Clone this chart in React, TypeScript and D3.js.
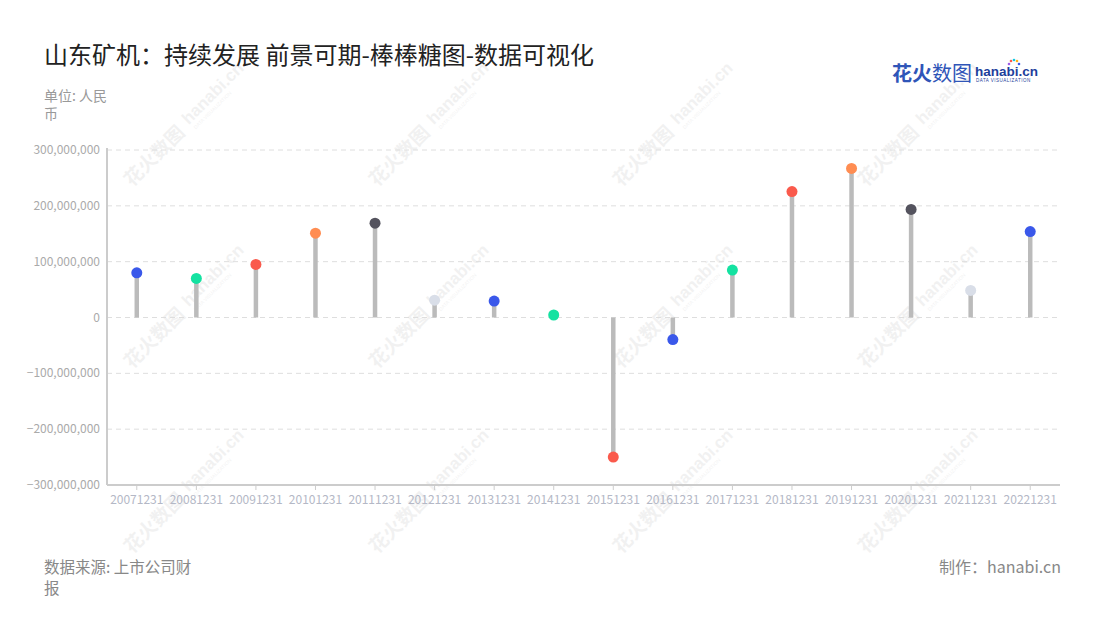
import React from "react";
import * as d3 from "d3";

const categories = ["20071231","20081231","20091231","20101231","20111231","20121231","20131231","20141231","20151231","20161231","20171231","20181231","20191231","20201231","20211231","20221231"];
const values = [80e6, 70e6, 95e6, 151e6, 169e6, 31e6, 29.5e6, 4.5e6, -250e6, -39.5e6, 85e6, 225.5e6, 267e6, 193.5e6, 48.5e6, 154e6];
const pointColors = ["#3a58ea","#14e2a1","#fa5a4c","#ff8d52","#54535e","#d9dee8","#3a58ea","#14e2a1","#fa5a4c","#3a58ea","#14e2a1","#fa5a4c","#ff8d52","#54535e","#d9dee8","#3a58ea"];
const yTicks = [-300e6, -200e6, -100e6, 0, 100e6, 200e6, 300e6];

const W = 1100, H = 620;
const left = 107, right = 1060, top = 150, bottom = 485;
const FONT = "'Noto Sans CJK SC', 'Noto Sans', sans-serif";

export default function App() {
  const x = d3.scaleBand<string>().domain(categories).range([left, right]);
  const y = d3.scaleLinear().domain([-300e6, 300e6]).range([bottom, top]);
  const fmt = d3.format(",");
  const wmCols = [183, 428, 672, 917];
  const wmRows = [128, 310, 495];
  return (
    <svg width={W} height={H} style={{ position: "absolute", left: 0, top: 0, background: "#fff" }} fontFamily={FONT}>
      {/* watermarks */}
      {wmRows.map((wy) => wmCols.map((wx) => (
        <g key={`${wx}-${wy}`} transform={`translate(${wx},${wy}) rotate(-45)`} opacity={0.05}>
          <text x={-78} y={6} fontSize={19} fontWeight={700} fill="#000">花火数图</text>
          <text x={6} y={2} fontSize={17} fontWeight={700} fill="#000" fontFamily="Arial, sans-serif">hanabi.cn</text>
          <text x={8} y={10} fontSize={5} fill="#000" fontFamily="Arial, sans-serif">DATA VISUALIZATION</text>
        </g>
      )))}
      {/* title */}
      <text x={44} y={64} fontSize={24} fill="#222">山东矿机：持续发展 前景可期-棒棒糖图-数据可视化</text>
      <text x={44} y={101} fontSize={14} fill="#999">单位: 人民</text>
      <text x={44} y={119} fontSize={14} fill="#999">币</text>
      {/* logo */}
      <g>
        <text x={892} y={81} fontSize={20} fontWeight={700} fill="#2f55b8">花火</text>
        <text x={932} y={81} fontSize={20} fill="#2f55b8">数图</text>
        <text x={975} y={76} fontSize={13.5} fontWeight={700} fill="#1e3f9c" fontFamily="Arial, sans-serif">hanabi.cn</text>
        <text x={976} y={82} fontSize={4.5} fill="#1e3f9c" fontFamily="Arial, sans-serif" letterSpacing={0.5}>DATA VISUALIZATION</text>
        <circle cx={1011} cy={61} r={1.3} fill="#ff5a4c" />
        <circle cx={1014} cy={60} r={1.3} fill="#14c8e2" />
        <circle cx={1017} cy={61} r={1.3} fill="#ffb020" />
        <circle cx={1009} cy={64} r={1.3} fill="#a05ae8" />
        <circle cx={1019} cy={64} r={1.3} fill="#3a58ea" />
      </g>
      {/* grid */}
      {yTicks.filter((t) => t !== -300e6).map((t) => (
        <line key={t} x1={left} x2={right} y1={y(t)} y2={y(t)} stroke="#dedede" strokeDasharray="5,4" strokeWidth={1} />
      ))}
      {/* y labels */}
      {yTicks.map((t) => (
        <text key={t} x={100} y={y(t) + 4} fontSize={12} fill="#aaa" textAnchor="end">{fmt(t)}</text>
      ))}
      {/* axes */}
      <line x1={left} x2={left} y1={top - 2} y2={bottom} stroke="#ccc" strokeWidth={2} />
      <line x1={left} x2={right} y1={bottom} y2={bottom} stroke="#ccc" strokeWidth={2} />
      {categories.map((c) => {
        const cx = (x(c) as number) + x.bandwidth() / 2;
        return (
          <g key={c}>
            <line x1={cx} x2={cx} y1={bottom} y2={bottom + 5} stroke="#ccc" strokeWidth={1} />
            <text x={cx} y={504} fontSize={12} fill="#b4b8c6" textAnchor="middle">{c}</text>
          </g>
        );
      })}
      {/* lollipops */}
      {categories.map((c, i) => {
        const cx = (x(c) as number) + x.bandwidth() / 2;
        return (
          <g key={c}>
            <line x1={cx} x2={cx} y1={y(0)} y2={y(values[i])} stroke="#bbb" strokeWidth={4.5} />
            <circle cx={cx} cy={y(values[i])} r={5.5} fill={pointColors[i]} />
          </g>
        );
      })}
      {/* footer */}
      <text x={44} y={573} fontSize={15.5} fill="#888">数据来源: 上市公司财</text>
      <text x={44} y={594} fontSize={15.5} fill="#888">报</text>
      <text x={1061} y={573} fontSize={16} fill="#888" textAnchor="end">制作：hanabi.cn</text>
    </svg>
  );
}
